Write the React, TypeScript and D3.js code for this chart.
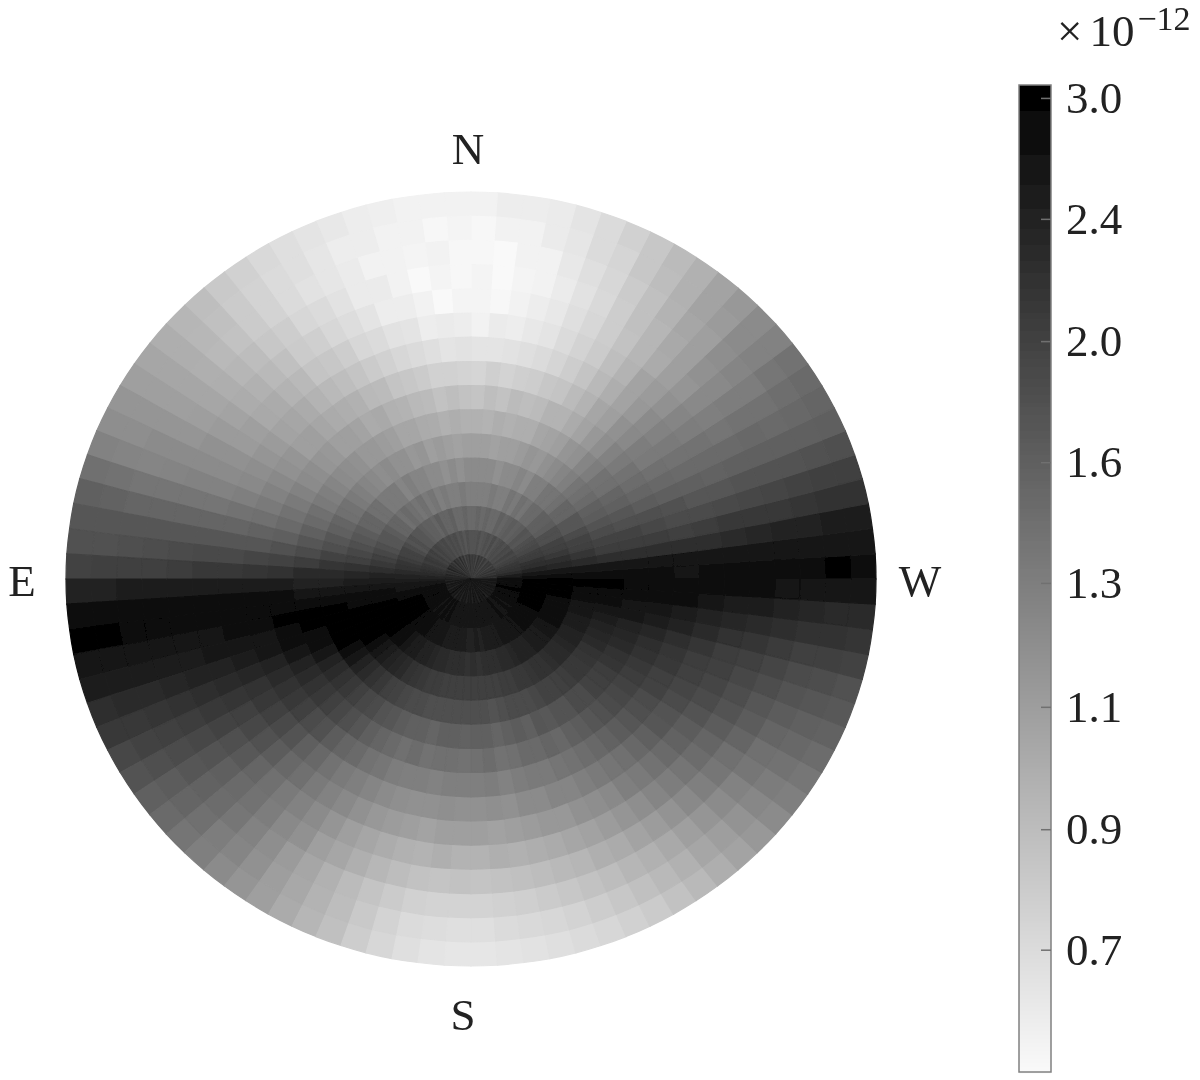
import React, { useEffect, useRef } from "react";
import * as d3 from "d3";

// values in units of 1e-12, one list per ring (inner to outer),
// each going counter-clockwise from W: W->N, N->E, E->S, S->W
const ring01 = [2.4,2.2,2.3,2.1,2.2,2.0,2.2,2.0,2.1,1.9,2.1,2.0,2.1,1.9,2.0,2.1,1.9,2.1,2.0,2.2,1.9,2.1,2.0,2.1,
  2.0,2.2,2.0,2.1,1.9,2.2,2.0,2.3,2.0,2.2,2.1,2.3,2.0,2.2,2.1,2.3,2.2,2.4,2.1,2.3,2.2,2.4,2.3,2.4,
  2.5,2.4,2.6,2.4,2.7,2.5,2.6,2.4,2.7,2.5,2.8,2.5,2.6,2.4,2.7,2.5,2.6,2.4,2.7,2.5,2.6,2.4,2.6,2.5,
  2.6,2.4,2.7,2.5,2.6,2.4,2.7,2.5,2.6,2.5,2.7,2.4,2.6,2.5,2.7,2.5,2.6,2.5,2.7,2.6,2.5,2.7,2.5,2.6];
const ring02 = [2.7,2.5,2.3,2.2,2.15,2.1,2.0,1.95,1.9,1.95,1.85,1.9,1.8,1.85,1.8,1.75,1.85,1.75,1.8,1.75,1.7,1.8,1.75,1.75,
  1.75,1.8,1.7,1.8,1.75,1.85,1.8,1.85,1.8,1.9,1.85,1.9,1.95,1.9,2.0,1.95,2.05,2.1,2.05,2.15,2.2,2.25,2.3,2.4,
  2.5,2.6,2.7,2.75,2.8,2.85,2.9,2.8,2.85,2.75,2.8,2.7,2.75,2.7,2.8,2.7,2.75,2.65,2.7,2.6,2.7,2.6,2.65,2.6,
  2.65,2.6,2.7,2.6,2.7,2.6,2.65,2.7,2.6,2.7,2.75,2.65,2.7,2.8,2.7,2.75,2.8,2.9,2.8,2.9,2.95,2.9,2.85,2.8];
const ring03 = [2.85,2.6,2.4,2.25,2.2,2.05,2.0,1.9,1.85,1.8,1.7,1.75,1.65,1.6,1.65,1.6,1.55,1.6,1.5,1.5,1.55,1.5,1.55,1.5,
  1.5,1.55,1.5,1.5,1.6,1.55,1.55,1.65,1.55,1.6,1.6,1.65,1.7,1.7,1.8,1.75,1.85,1.95,1.95,2.05,2.15,2.2,2.3,2.4,
  2.5,2.6,2.7,2.8,2.9,2.95,3.0,3.0,3.0,2.95,2.9,2.85,2.8,2.75,2.7,2.65,2.6,2.6,2.55,2.5,2.55,2.5,2.5,2.45,
  2.45,2.5,2.45,2.5,2.5,2.55,2.55,2.6,2.65,2.65,2.7,2.7,2.75,2.8,2.8,2.85,2.9,2.95,3.0,3.0,3.05,3.05,3.0,2.95];
const ring04 = [2.9,2.6,2.35,2.25,2.1,2.0,1.95,1.8,1.8,1.65,1.6,1.6,1.5,1.5,1.4,1.45,1.35,1.4,1.3,1.3,1.35,1.3,1.3,1.3,
  1.3,1.35,1.3,1.3,1.35,1.3,1.4,1.35,1.45,1.4,1.45,1.5,1.45,1.55,1.55,1.65,1.7,1.7,1.8,1.9,2.0,2.1,2.25,2.4,
  2.55,2.7,2.8,2.85,2.95,3.0,3.05,3.05,3.0,2.95,2.85,2.75,2.65,2.55,2.5,2.45,2.4,2.35,2.3,2.3,2.25,2.25,2.25,2.2,
  2.25,2.2,2.25,2.25,2.25,2.3,2.3,2.35,2.4,2.4,2.45,2.5,2.55,2.55,2.6,2.7,2.75,2.75,2.8,2.85,2.9,3.0,3.05,3.0];
const ring05 = [2.85,2.6,2.3,2.15,2.0,1.95,1.85,1.7,1.7,1.55,1.55,1.45,1.4,1.4,1.3,1.3,1.2,1.25,1.2,1.2,1.15,1.2,1.2,1.2,
  1.2,1.15,1.2,1.15,1.2,1.2,1.25,1.25,1.3,1.25,1.35,1.35,1.35,1.45,1.45,1.55,1.55,1.65,1.7,1.8,1.9,2.0,2.2,2.35,
  2.5,2.7,2.85,2.9,2.95,3.0,3.0,3.05,2.95,2.85,2.7,2.55,2.45,2.35,2.3,2.2,2.15,2.1,2.05,2.05,2.0,2.0,2.0,2.0,
  2.0,2.0,2.0,2.0,2.05,2.05,2.1,2.1,2.15,2.2,2.2,2.25,2.3,2.3,2.35,2.4,2.45,2.5,2.55,2.6,2.7,2.8,2.9,2.95];
const ring06 = [2.85,2.6,2.25,2.05,1.95,1.85,1.75,1.65,1.6,1.5,1.45,1.4,1.3,1.25,1.2,1.15,1.1,1.12,1.08,1.05,1.05,1.03,1.05,1.05,
  1.05,1.03,1.05,1.08,1.05,1.12,1.1,1.15,1.15,1.2,1.18,1.22,1.25,1.3,1.35,1.42,1.45,1.55,1.6,1.7,1.8,1.95,2.15,2.3,
  2.45,2.7,2.85,2.95,3.0,3.05,3.05,2.95,2.8,2.6,2.45,2.3,2.2,2.1,2.0,1.95,1.9,1.85,1.85,1.8,1.8,1.8,1.8,1.8,
  1.8,1.8,1.75,1.8,1.85,1.85,1.85,1.9,1.95,1.95,2.0,2.05,2.1,2.1,2.15,2.2,2.3,2.35,2.4,2.5,2.6,2.75,2.9,2.95];
const ring07 = [2.8,2.65,2.25,2.05,1.95,1.8,1.72,1.6,1.55,1.45,1.42,1.32,1.25,1.15,1.12,1.05,1.02,1.0,0.95,0.95,0.93,0.95,0.92,0.93,
  0.93,0.95,0.93,0.96,0.97,1.0,1.0,1.05,1.07,1.1,1.1,1.15,1.18,1.2,1.25,1.3,1.35,1.45,1.5,1.6,1.72,1.85,2.05,2.3,
  2.45,2.7,2.9,3.0,2.95,2.85,2.75,2.6,2.45,2.3,2.2,2.1,2.0,1.9,1.85,1.75,1.7,1.65,1.6,1.6,1.55,1.6,1.6,1.58,
  1.6,1.6,1.55,1.6,1.65,1.6,1.7,1.68,1.75,1.75,1.85,1.85,1.95,2.0,2.05,2.15,2.2,2.3,2.35,2.45,2.6,2.7,2.85,2.9];
const ring08 = [2.75,2.7,2.25,2.05,1.9,1.8,1.65,1.55,1.48,1.42,1.35,1.28,1.18,1.1,1.02,0.97,0.92,0.92,0.87,0.85,0.87,0.83,0.85,0.82,
  0.83,0.85,0.83,0.87,0.88,0.92,0.93,0.98,0.97,1.02,1.05,1.05,1.1,1.12,1.18,1.2,1.28,1.35,1.42,1.5,1.62,1.78,1.95,2.2,
  2.5,2.75,2.9,2.95,2.85,2.75,2.6,2.45,2.3,2.2,2.1,2.0,1.9,1.8,1.72,1.62,1.55,1.5,1.45,1.48,1.42,1.45,1.45,1.42,
  1.45,1.48,1.42,1.45,1.5,1.5,1.55,1.52,1.6,1.65,1.72,1.78,1.85,1.9,1.95,2.05,2.1,2.2,2.25,2.35,2.5,2.65,2.8,2.9];
const ring09 = [2.7,2.7,2.25,2.0,1.85,1.78,1.62,1.52,1.45,1.35,1.32,1.22,1.15,1.05,1.0,0.92,0.87,0.82,0.8,0.77,0.76,0.74,0.76,0.73,
  0.74,0.75,0.75,0.78,0.8,0.82,0.87,0.88,0.93,0.95,0.97,1.0,1.05,1.05,1.12,1.15,1.22,1.28,1.35,1.45,1.58,1.72,1.92,2.15,
  2.5,2.8,2.9,2.85,2.7,2.6,2.45,2.3,2.2,2.1,2.0,1.85,1.78,1.65,1.55,1.5,1.42,1.38,1.32,1.3,1.3,1.28,1.3,1.3,
  1.3,1.32,1.28,1.32,1.35,1.35,1.4,1.42,1.47,1.52,1.58,1.65,1.72,1.8,1.85,1.95,2.0,2.1,2.15,2.25,2.4,2.55,2.75,2.85];
const ring10 = [2.75,2.65,2.25,2.05,1.85,1.72,1.6,1.5,1.42,1.35,1.28,1.2,1.1,1.02,0.95,0.88,0.82,0.77,0.73,0.7,0.68,0.67,0.66,0.66,
  0.67,0.66,0.68,0.7,0.72,0.75,0.78,0.82,0.85,0.88,0.92,0.97,1.0,1.02,1.08,1.12,1.18,1.22,1.3,1.42,1.55,1.7,1.88,2.1,
  2.55,2.85,2.85,2.75,2.6,2.5,2.35,2.2,2.1,2.0,1.88,1.75,1.62,1.52,1.42,1.35,1.3,1.25,1.2,1.17,1.15,1.15,1.17,1.15,
  1.15,1.17,1.15,1.2,1.2,1.25,1.25,1.3,1.35,1.4,1.45,1.52,1.6,1.7,1.75,1.85,1.92,2.0,2.05,2.15,2.3,2.45,2.6,2.85];
const ring11 = [2.9,2.65,2.3,2.1,1.88,1.72,1.58,1.5,1.42,1.32,1.25,1.15,1.08,1.02,0.92,0.85,0.78,0.74,0.7,0.66,0.64,0.62,0.63,0.6,
  0.62,0.63,0.62,0.66,0.67,0.7,0.72,0.77,0.8,0.82,0.88,0.92,0.97,0.98,1.05,1.08,1.15,1.2,1.28,1.4,1.55,1.7,1.88,2.1,
  2.5,2.85,2.85,2.7,2.6,2.45,2.3,2.15,2.0,1.9,1.78,1.65,1.52,1.45,1.35,1.28,1.22,1.15,1.1,1.07,1.05,1.02,1.05,1.05,
  1.05,1.03,1.05,1.07,1.1,1.1,1.15,1.18,1.22,1.3,1.35,1.42,1.5,1.58,1.65,1.75,1.85,1.92,2.0,2.05,2.22,2.38,2.55,2.8];
const ring12 = [2.85,2.65,2.35,2.1,1.9,1.75,1.6,1.5,1.4,1.3,1.22,1.12,1.05,0.97,0.9,0.83,0.77,0.72,0.68,0.64,0.62,0.6,0.58,0.59,
  0.59,0.57,0.6,0.62,0.62,0.66,0.69,0.72,0.76,0.78,0.84,0.88,0.93,0.96,1.02,1.08,1.15,1.2,1.28,1.4,1.55,1.7,1.85,2.05,
  2.5,2.85,2.85,2.7,2.55,2.4,2.25,2.1,1.95,1.8,1.68,1.55,1.45,1.35,1.28,1.2,1.12,1.05,1.0,0.96,0.93,0.92,0.94,0.92,
  0.92,0.94,0.93,0.95,0.97,1.0,1.03,1.07,1.12,1.18,1.25,1.32,1.4,1.48,1.55,1.65,1.75,1.82,1.9,2.0,2.15,2.3,2.5,2.75];
const ring13 = [2.8,2.7,2.4,2.12,1.92,1.75,1.6,1.52,1.42,1.32,1.22,1.15,1.05,0.98,0.9,0.84,0.77,0.71,0.67,0.63,0.6,0.59,0.57,0.59,
  0.58,0.59,0.57,0.6,0.63,0.63,0.67,0.7,0.72,0.77,0.8,0.86,0.9,0.95,1.0,1.06,1.12,1.2,1.26,1.4,1.55,1.7,1.82,2.0,
  2.5,2.85,2.9,2.7,2.55,2.35,2.2,2.05,1.9,1.75,1.62,1.5,1.42,1.32,1.22,1.15,1.05,1.0,0.94,0.89,0.86,0.83,0.82,0.83,
  0.82,0.83,0.84,0.86,0.88,0.9,0.94,0.97,1.02,1.07,1.14,1.22,1.3,1.38,1.45,1.55,1.65,1.72,1.82,1.92,2.08,2.25,2.42,2.72];
const ring14 = [2.9,2.65,2.45,2.15,1.95,1.75,1.6,1.5,1.42,1.32,1.25,1.18,1.05,1.0,0.92,0.84,0.78,0.72,0.68,0.64,0.6,0.6,0.57,0.58,
  0.58,0.6,0.59,0.6,0.6,0.63,0.65,0.67,0.7,0.74,0.78,0.83,0.88,0.94,1.0,1.05,1.12,1.2,1.25,1.4,1.55,1.7,1.8,2.0,
  2.5,2.85,2.9,2.7,2.55,2.3,2.15,2.0,1.85,1.7,1.58,1.48,1.38,1.28,1.18,1.08,1.0,0.93,0.87,0.82,0.78,0.75,0.74,0.74,
  0.74,0.75,0.76,0.78,0.8,0.83,0.86,0.9,0.93,0.98,1.05,1.12,1.2,1.28,1.38,1.45,1.55,1.65,1.75,1.85,2.0,2.2,2.35,2.7];
const ring15 = [3.0,2.65,2.48,2.18,1.98,1.78,1.6,1.52,1.46,1.38,1.28,1.2,1.08,1.02,0.93,0.86,0.8,0.73,0.7,0.65,0.63,0.6,0.6,0.58,
  0.59,0.58,0.6,0.6,0.62,0.62,0.65,0.68,0.7,0.74,0.78,0.84,0.89,0.95,1.0,1.05,1.12,1.18,1.26,1.42,1.58,1.7,1.78,1.98,
  2.45,2.85,2.95,2.7,2.5,2.28,2.12,1.95,1.8,1.65,1.55,1.45,1.32,1.25,1.15,1.06,0.99,0.92,0.86,0.79,0.74,0.7,0.69,0.68,
  0.68,0.7,0.71,0.72,0.74,0.77,0.8,0.84,0.88,0.93,1.0,1.06,1.14,1.23,1.33,1.42,1.52,1.6,1.72,1.82,1.98,2.18,2.32,2.68];
const ring16 = [2.8,2.6,2.5,2.2,2.0,1.8,1.62,1.55,1.5,1.42,1.28,1.2,1.1,1.02,0.93,0.87,0.8,0.75,0.7,0.66,0.63,0.62,0.62,0.6,
  0.6,0.6,0.6,0.61,0.62,0.64,0.66,0.68,0.71,0.75,0.79,0.85,0.9,0.95,1.0,1.05,1.12,1.18,1.28,1.45,1.6,1.7,1.78,1.95,
  2.4,2.8,2.95,2.7,2.5,2.25,2.1,1.9,1.75,1.6,1.5,1.4,1.3,1.2,1.12,1.05,0.97,0.9,0.84,0.77,0.72,0.68,0.66,0.65,
  0.65,0.66,0.67,0.68,0.7,0.72,0.75,0.78,0.83,0.88,0.95,1.02,1.1,1.2,1.3,1.38,1.48,1.58,1.68,1.78,1.95,2.15,2.3,2.65];
const rings = [ring01, ring02, ring03, ring04, ring05, ring06, ring07, ring08,
  ring09, ring10, ring11, ring12, ring13, ring14, ring15, ring16];

// the bar is log spaced, the printed labels are rounded to one decimal
const cbarTicks = [3.0, 2.44, 1.98, 1.61, 1.31, 1.06, 0.86, 0.7];
const cbarDomain = [0.568, 3.067];

const serif = "'Liberation Serif', serif";

export default function App() {
  const ref = useRef<SVGSVGElement>(null);

  useEffect(() => {
    const root = d3.select(ref.current);
    root.selectAll("*").remove();

    // the reference is a slightly soft raster
    root.append("defs").append("filter")
      .attr("id", "soft")
      .append("feGaussianBlur")
      .attr("stdDeviation", 0.6);
    const svg = root.append("g").attr("filter", "url(#soft)");

    // log colour scale, white at the low end and black at the top
    const tone = d3.scaleLog().domain(cbarDomain).range([250, 0]).clamp(true);
    const grey = (v: number) => {
      const g = Math.round(tone(v));
      return d3.rgb(g, g, g).formatHex();
    };

    const rx = 405, ry = 387;
    const radius = d3.scaleLinear().domain([0, rings.length]).range([0, 1]);
    const nSect = ring01.length;
    const angle = d3.scaleLinear().domain([0, nSect]).range([Math.PI / 2, Math.PI / 2 - 2 * Math.PI]);
    const arc = d3.arc();

    const disc = svg.append("g")
      .attr("transform", `translate(471,579) scale(${rx},${ry})`);

    // painted outside in, with a small same-colour stroke so no seams show
    [...rings].reverse().forEach((ring, j) => {
      const i = rings.length - 1 - j;
      disc.append("g").selectAll("path")
        .data(ring)
        .join("path")
        .attr("d", (_, k) => arc({
          innerRadius: radius(i),
          outerRadius: radius(i + 1),
          startAngle: angle(k + 1),
          endAngle: angle(k),
        }))
        .attr("fill", d => grey(d))
        .attr("stroke", d => grey(d))
        .attr("stroke-width", 0.003);
    });

    const compass = [
      { t: "N", x: 468, y: 164 },
      { t: "S", x: 463, y: 1030 },
      { t: "E", x: 22, y: 596 },
      { t: "W", x: 920, y: 596 },
    ];
    svg.append("g").selectAll("text")
      .data(compass)
      .join("text")
      .attr("x", d => d.x)
      .attr("y", d => d.y)
      .attr("text-anchor", "middle")
      .attr("font-family", serif)
      .attr("font-size", 45)
      .attr("fill", "#222")
      .text(d => d.t);

    // colorbar
    const barX = 1019, barW = 32, barTop = 85, barBottom = 1072;
    const y = d3.scaleLog().domain(cbarDomain).range([barBottom, barTop]);
    const bar = svg.append("g");
    bar.selectAll("rect")
      .data(d3.range(barTop, barBottom, 2))
      .join("rect")
      .attr("x", barX)
      .attr("y", d => d)
      .attr("width", barW)
      .attr("height", 2.5)
      .attr("fill", d => grey(y.invert(d + 1)));
    bar.append("rect")
      .attr("x", barX)
      .attr("y", barTop)
      .attr("width", barW)
      .attr("height", barBottom - barTop)
      .attr("fill", "none")
      .attr("stroke", "#808080")
      .attr("stroke-width", 1.5);

    const axis = svg.append("g")
      .attr("transform", `translate(${barX + barW},0)`)
      .call(d3.axisRight(y).tickValues(cbarTicks).tickSize(-10).tickPadding(15).tickFormat(d3.format(".1f")));
    axis.select(".domain").remove();
    axis.selectAll(".tick line").attr("stroke", "#707070").attr("stroke-width", 1.5);
    axis.selectAll(".tick text")
      .attr("font-family", serif)
      .attr("font-size", 45)
      .attr("fill", "#222");

    // multiplier label
    const mult = svg.append("text")
      .attr("x", 1057)
      .attr("y", 46)
      .attr("font-family", serif)
      .attr("font-size", 45)
      .attr("fill", "#222");
    mult.append("tspan").text("×");
    mult.append("tspan").attr("dx", 7).text("10");
    mult.append("tspan")
      .attr("dx", 3)
      .attr("dy", -16)
      .attr("font-size", 34)
      .text("−12");
  }, []);

  return (
    <svg
      ref={ref}
      width={1200}
      height={1080}
      style={{ position: "absolute", left: 0, top: 0, display: "block", background: "#fff" }}
    />
  );
}
